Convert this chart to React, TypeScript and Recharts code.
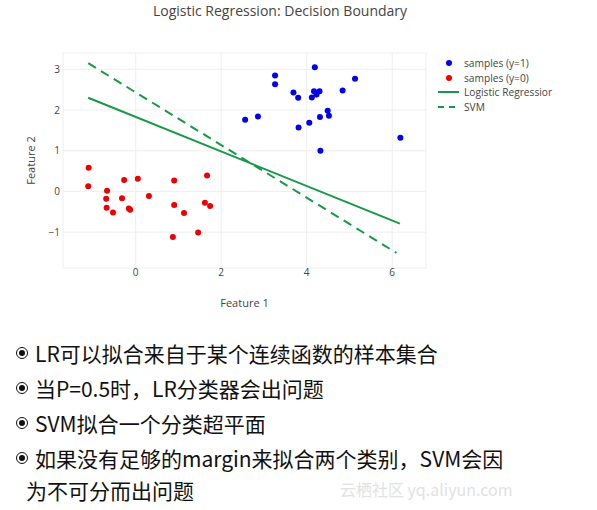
import { ScatterChart, Scatter, XAxis, YAxis, CartesianGrid } from 'recharts'

// samples (y=1)
const posX = [2.56, 2.86, 3.26, 3.26, 3.69, 3.80, 3.81, 4.06, 4.12, 4.17, 4.19, 4.23, 4.30, 4.31, 4.32, 4.49, 4.52, 4.84, 5.13, 6.19]
const posY = [1.76, 1.84, 2.85, 2.63, 2.43, 2.30, 1.57, 1.69, 2.31, 2.46, 3.05, 2.38, 2.46, 1.83, 1.00, 1.98, 1.86, 2.48, 2.77, 1.32]

// samples (y=0)
const negX = [-1.10, -1.11, -0.67, -0.69, -0.68, -0.53, -0.32, -0.27, -0.16, -0.13, 0.05, 0.31, 0.90, 0.90, 0.87, 1.13, 1.46, 1.67, 1.62, 1.74]
const negY = [0.58, 0.13, 0.02, -0.18, -0.40, -0.52, -0.17, 0.28, -0.42, -0.45, 0.31, -0.11, 0.27, -0.33, -1.12, -0.53, -1.01, 0.39, -0.28, -0.36]

// decision boundaries (end points)
const lrX = [-1.11, 6.18]
const lrY = [2.30, -0.79]
const svmX = [-1.11, 6.10]
const svmY = [3.15, -1.51]

const xTicks = [0, 2, 4, 6]
const yTicks = [-1, 0, 1, 2, 3]

const bullets = [
  'LR可以拟合来自于某个连续函数的样本集合',
  '当P=0.5时，LR分类器会出问题',
  'SVM拟合一个分类超平面',
  '如果没有足够的margin来拟合两个类别，SVM会因',
]
const lastLine = '为不可分而出问题'

const legendItems = [
  { name: 'samples (y=1)', color: '#0000ee', kind: 'dot' },
  { name: 'samples (y=0)', color: '#ee0000', kind: 'dot' },
  { name: 'Logistic Regressior', color: '#169a45', kind: 'line' },
  { name: 'SVM', color: '#169a45', kind: 'dash' },
]

const zip = (xs: number[], ys: number[]) => xs.map((x, i) => ({ x, y: ys[i] }))

const dot = (color: string) => (p: any) => <circle cx={p.cx} cy={p.cy} r={3} fill={color} />
const noDot = () => <g />

const FONT = "'Open Sans', sans-serif"
const CJK = "'Noto Sans CJK SC', 'Noto Sans', sans-serif"

export default function App() {
  return (
    <div style={{ position: 'absolute', left: 0, top: 0, width: 597, height: 510, background: '#fff', overflow: 'hidden' }}>
      <div style={{ position: 'absolute', left: 0, width: 560, top: 1, textAlign: 'center', fontFamily: FONT, fontSize: 14, color: '#444' }}>
        Logistic Regression: Decision Boundary
      </div>

      <ScatterChart width={597} height={320} margin={{ top: 53, right: 171, bottom: 0, left: 0 }}>
        <CartesianGrid stroke="#eeeeee" />
        <XAxis
          type="number"
          dataKey="x"
          domain={[-1.7, 6.79]}
          ticks={xTicks}
          allowDataOverflow
          axisLine={false}
          tickLine={false}
          tickSize={0}
          tickMargin={1}
          height={52}
          tick={{ fontSize: 10, fill: '#444', fontFamily: FONT }}
          label={{ value: 'Feature 1', position: 'insideBottom', offset: 13, fontSize: 11, fill: '#444', fontFamily: FONT }}
        />
        <YAxis
          type="number"
          dataKey="y"
          domain={[-1.88, 3.4]}
          ticks={yTicks}
          allowDataOverflow
          axisLine={false}
          tickLine={false}
          tickSize={0}
          tickMargin={3}
          width={63}
          tickFormatter={(v: number) => (v < 0 ? '\u2212' + Math.abs(v) : String(v))}
          tick={{ fontSize: 10, fill: '#444', fontFamily: FONT }}
          label={{ value: 'Feature 2', angle: -90, position: 'center', fontSize: 11, fill: '#444', fontFamily: FONT }}
        />
        <Scatter data={zip(lrX, lrY)} line={{ stroke: '#169a45', strokeWidth: 2 }} shape={noDot} isAnimationActive={false} />
        <Scatter data={zip(svmX, svmY)} line={{ stroke: '#169a45', strokeWidth: 2, strokeDasharray: '9 6' }} shape={noDot} isAnimationActive={false} />
        <Scatter data={zip(posX, posY)} shape={dot('#0000ee')} isAnimationActive={false} />
        <Scatter data={zip(negX, negY)} shape={dot('#ee0000')} isAnimationActive={false} />
      </ScatterChart>

      {/* legend */}
      <div style={{ position: 'absolute', left: 437, top: 56, fontFamily: FONT, fontSize: 10.2, color: '#444' }}>
        {legendItems.map(item => (
          <div key={item.name} style={{ display: 'flex', alignItems: 'center', height: 14.5 }}>
            <svg width={27} height={10}>
              {item.kind === 'dot' ? (
                <circle cx={12} cy={5} r={3} fill={item.color} />
              ) : (
                <line x1={1} y1={5} x2={22} y2={5} stroke={item.color} strokeWidth={2} strokeDasharray={item.kind === 'dash' ? '6 5' : undefined} />
              )}
            </svg>
            <span>{item.name}</span>
          </div>
        ))}
      </div>

      {/* bullet text */}
      {bullets.map((t, i) => (
        <div key={t} style={{ position: 'absolute', left: 16, top: 336 + i * 35, height: 34, lineHeight: '34px', display: 'flex', alignItems: 'center', fontFamily: CJK, fontSize: 21, color: '#111', whiteSpace: 'nowrap' }}>
          <span style={{ display: 'inline-block', width: 10, height: 10, borderRadius: '50%', border: '1.3px solid #111', position: 'relative', marginRight: 7 }}>
            <span style={{ position: 'absolute', left: 2, top: 2, width: 6, height: 6, borderRadius: '50%', background: '#111' }} />
          </span>
          {t}
        </div>
      ))}
      <div style={{ position: 'absolute', left: 26, top: 473, lineHeight: '34px', fontFamily: CJK, fontSize: 21, color: '#111', whiteSpace: 'nowrap' }}>
        {lastLine}
      </div>
      <div style={{ position: 'absolute', left: 340, top: 477, fontFamily: CJK, fontSize: 16, color: '#e2e2e2', whiteSpace: 'nowrap' }}>
        云栖社区 yq.aliyun.com
      </div>
    </div>
  )
}
